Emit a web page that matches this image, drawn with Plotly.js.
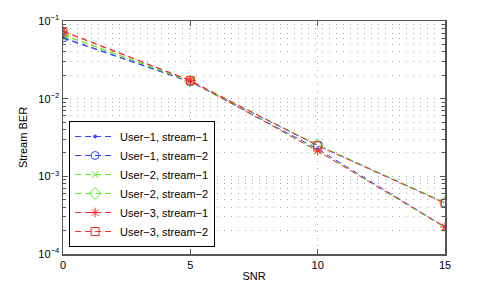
<!DOCTYPE html>
<html>
<head>
<meta charset="utf-8">
<script src="https://cdn.plot.ly/plotly-3.0.1.min.js"></script>
<style>html,body{margin:0;padding:0;background:#fff;}#chart{width:491px;height:286px;}</style>
</head>
<body>
<div id="chart"></div>
<script>
const snr = [0, 5, 10, 15];
const user1Stream1 = [0.0615, 0.0165, 0.00225, 0.000222];
const user1Stream2 = [0.0600, 0.0165, 0.00250, 0.000455];
const user2Stream1 = [0.0665, 0.0168, 0.00215, 0.000218];
const user2Stream2 = [0.0660, 0.0168, 0.00255, 0.000460];
const user3Stream1 = [0.0745, 0.0171, 0.00212, 0.000223];
const user3Stream2 = [0.0730, 0.0171, 0.00248, 0.000450];
const seriesNames = ["User\u22121, stream\u22121", "User\u22121, stream\u22122",
  "User\u22122, stream\u22121", "User\u22122, stream\u22122",
  "User\u22123, stream\u22121", "User\u22123, stream\u22122"];
const yTickVals = [1e-4, 1e-3, 1e-2, 1e-1];
const yTickText = ["10<sup>\u22124</sup>", "10<sup>\u22123</sup>", "10<sup>\u22122</sup>", "10<sup>\u22121</sup>"];
const xTickVals = [0, 5, 10, 15];

const blue = "#3344ff", green = "#55ee22", red = "#ff2a2a";
const styles = [
  {c: blue, s: "circle", sz: 3},
  {c: blue, s: "circle-open", sz: 8},
  {c: green, s: "x-thin-open", sz: 7},
  {c: green, s: "diamond-open", sz: 9},
  {c: red, s: "asterisk-open", sz: 8},
  {c: red, s: "square-open", sz: 8}
];
const ys = [user1Stream1, user1Stream2, user2Stream1, user2Stream2, user3Stream1, user3Stream2];
const traces = ys.map((y, i) => ({
  x: snr, y: y, name: seriesNames[i], type: "scatter", mode: "lines+markers",
  line: {color: styles[i].c, width: 1, dash: "6px,4px"},
  marker: {symbol: styles[i].s, size: styles[i].sz, color: styles[i].c, line: {color: styles[i].c, width: 1}}
}));

const font = {family: "Liberation Sans, Arial, sans-serif", size: 11, color: "#000"};
const gridDash = "1px,6px";
const gridColor = "#a8a8a8";
const layout = {
  width: 491, height: 286,
  margin: {l: 63, r: 46, t: 21, b: 32},
  paper_bgcolor: "#fff", plot_bgcolor: "#fff",
  font: font,
  showlegend: true,
  legend: {x: 0.016, y: 0.03, xanchor: "left", yanchor: "bottom",
    bordercolor: "#000", borderwidth: 1, bgcolor: "#fff",
    font: {family: font.family, size: 11, color: "#000"},
    itemwidth: 40, tracegroupgap: 0},
  xaxis: {
    range: [0, 15], tickvals: xTickVals, ticks: "inside", ticklen: 5, tickcolor: "#555",
    showline: true, linecolor: "#555", linewidth: 1.5, mirror: "ticks",
    showgrid: true, gridcolor: gridColor, griddash: gridDash, gridwidth: 1,
    zeroline: false,
    title: {text: "SNR", font: {size: 11}, standoff: 2}
  },
  yaxis: {
    type: "log", range: [-4, -1], tickvals: yTickVals, ticktext: yTickText,
    ticks: "inside", ticklen: 5, tickcolor: "#555",
    showline: true, linecolor: "#555", linewidth: 1.5, mirror: "ticks",
    showgrid: true, gridcolor: gridColor, griddash: gridDash, gridwidth: 1,
    zeroline: false,
    minor: {dtick: "D1", ticks: "inside", ticklen: 3, tickcolor: "#555", showgrid: true, gridcolor: gridColor, griddash: gridDash, gridwidth: 1},
    title: {text: "Stream BER", font: {size: 11}, standoff: 8}
  }
};
Plotly.newPlot("chart", traces, layout, {displayModeBar: false, staticPlot: true});
</script>
</body>
</html>
